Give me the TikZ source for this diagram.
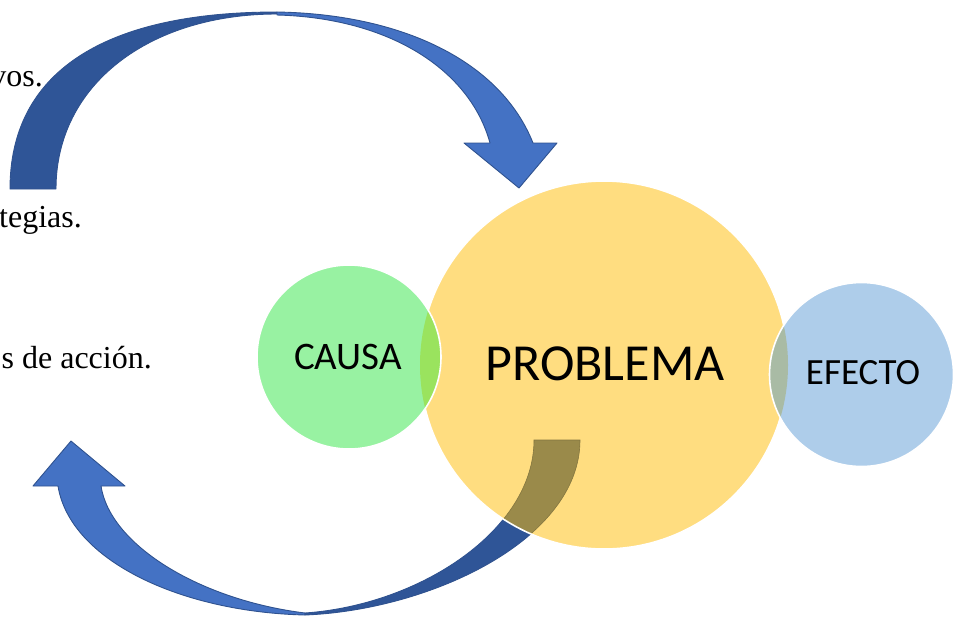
\documentclass[tikz,border=0pt]{standalone}
\usepackage{fontspec}
\setmainfont{Liberation Serif}
\newfontfamily\calibri{Carlito}
\definecolor{flecha}{HTML}{4472C4}
\definecolor{flechaosc}{HTML}{2F5597}
\definecolor{borde}{HTML}{2F528F}
\definecolor{amarillo}{HTML}{FFDD80}
\definecolor{verde}{HTML}{98F2A2}
\definecolor{verdeosc}{HTML}{9AE35E}
\definecolor{azul}{HTML}{AECDEA}
\definecolor{azulgris}{HTML}{A9BBA5}
\definecolor{oliva}{HTML}{9A8A4A}
\begin{document}
\begin{tikzpicture}[x=1pt,y=-1pt,
		tramo/.style={draw=borde,line width=0.9pt,line join=round},
		borde blanco/.style={draw=white,line width=1.6pt},
		rotulo/.style={font=\calibri\fontsize{#1}{#1}\selectfont,inner sep=0pt},
		texto/.style={anchor=base east,font=\fontsize{32}{36}\selectfont,inner sep=0pt}]
			\useasboundingbox (0,0) rectangle (960,616);
			\coordinate (causa) at (349,357);
			\coordinate (problema) at (604,365);
			\coordinate (efecto) at (861.5,374.5);
			% textos cortados a la izquierda
			\node[texto] (t1) at (43,86) {vos.};
			\node[texto] (t2) at (82,227) {tegias.};
			\node[texto] (t3) at (152,368) {s de acción.};
			% flecha de arriba
			\fill[flechaosc,tramo] (10,189) .. controls (10,74) and (101,12) .. (277,12)
				-- (277,14) .. controls (150,14) and (56,84) .. (56,189) -- cycle;
			\fill[flecha,tramo] (277,12) .. controls (400,14) and (500,60) .. (533,143)
				-- (557,143) -- (519,188) -- (464,143) -- (490,143)
				.. controls (470,70) and (390,18) .. (277,15) -- cycle;
			% flecha de abajo
			\fill[flecha,tramo] (305,615) .. controls (180,612) and (70,560) .. (58,486)
				-- (33,486) -- (71,441) -- (125,486) -- (101,486)
				.. controls (110,545) and (200,600) .. (305,613) -- cycle;
			\fill[flechaosc,tramo] (534,440) -- (580,440) .. controls (580,540) and (430,610) .. (305,615)
				-- (305,613) .. controls (420,605) and (534,530) .. (534,440) -- cycle;
			% circulo central
			\fill[amarillo] (problema) circle (184);
			\begin{scope}
				\clip (problema) circle (184);
				\fill[oliva,draw=oliva!85!black,line width=0.6pt] (534,440) -- (580,440) .. controls (580,540) and (430,610) .. (305,615)
					-- (305,613) .. controls (420,605) and (534,530) .. (534,440) -- cycle;
			\end{scope}
			\draw[borde blanco] (problema) circle (184);
			% causa
			\fill[verde] (causa) circle (92);
			\begin{scope}
				\clip (problema) circle (184);
				\fill[verdeosc] (causa) circle (92);
			\end{scope}
			\draw[borde blanco] (causa) circle (92);
			% efecto
			\fill[azul] (efecto) circle (92);
			\begin{scope}
				\clip (problema) circle (184);
				\fill[azulgris] (efecto) circle (92);
			\end{scope}
			\draw[borde blanco] (efecto) circle (92);
			\node[rotulo=39] (lcausa) at (348,356.5) {CAUSA};
			\node[rotulo=52] (lproblema) at (605,363.5) {PROBLEMA};
			\node[rotulo=37] (lefecto) at (863,373) {EFECTO};
		\end{tikzpicture}
\end{document}
